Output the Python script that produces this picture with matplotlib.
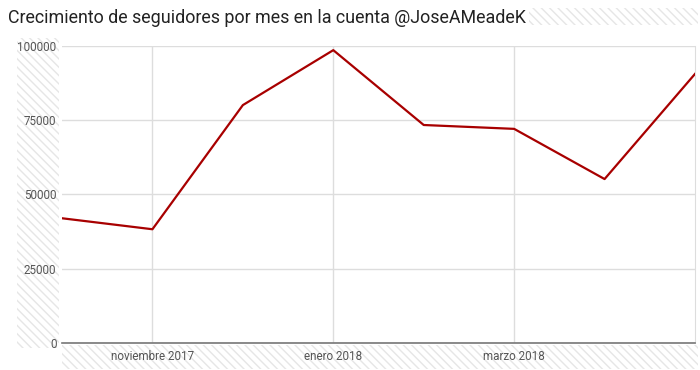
import matplotlib.pyplot as plt
from matplotlib.patches import Rectangle

# datos: seguidores nuevos por mes (oct 2017 - may 2018)
meses = ['octubre 2017', 'noviembre 2017', 'diciembre 2017', 'enero 2018',
         'febrero 2018', 'marzo 2018', 'abril 2018', 'mayo 2018']
seguidores = [42000, 38300, 80100, 98600, 73400, 72100, 55200, 90600]
yticks = [0, 25000, 50000, 75000, 100000]
xtick_idx = [1, 3, 5]

plt.rcParams['font.family'] = ['Roboto', 'DejaVu Sans']

fig = plt.figure(figsize=(7, 3.7), dpi=100)
fig.patch.set_facecolor('white')

# fondo rayado (como en la captura)
for (x0, y0, w, h) in [(17 / 700, 22 / 370, 42 / 700, 310 / 370),
                       (62 / 700, 1 / 370, 636 / 700, 24 / 370),
                       (62 / 700, 345 / 370, 636 / 700, 17 / 370)]:
    r = Rectangle((x0, y0), w, h, transform=fig.transFigure,
                  facecolor='white', edgecolor='#e6e6e6',
                  hatch='\\\\\\\\', linewidth=0, zorder=-5)
    fig.patches.append(r)

ax = fig.add_axes([62 / 700, 27 / 370, 633 / 700, 297 / 370])
ax.set_zorder(1)
ax.patch.set_alpha(0)
x = list(range(len(meses)))
ax.plot(x, seguidores, color='#a80000', linewidth=1.6, zorder=3)

ax.set_xlim(0, len(meses) - 1)
ax.set_ylim(0, 100000)
ax.set_yticks(yticks)
ax.set_yticklabels([str(v) for v in yticks])
ax.set_xticks(xtick_idx)
ax.set_xticklabels([meses[i] for i in xtick_idx])
ax.grid(True, color='#dddddd', linewidth=1)
ax.set_axisbelow(True)
ax.tick_params(length=0, labelsize=8.4, labelcolor='#555555', pad=4)
ax.tick_params(axis='x', pad=5)
for s in ['top', 'left']:
    ax.spines[s].set_visible(False)
ax.spines['right'].set_color('#dddddd')
ax.spines['bottom'].set_color('#777777')
ax.spines['bottom'].set_linewidth(1.2)

# zona blanca del area de trazado
fig.patches.append(Rectangle((62 / 700, 27 / 370), 633 / 700, 297 / 370,
                             transform=fig.transFigure, facecolor='white',
                             edgecolor='none', zorder=-4))

fig.text(8 / 700, 1 - 18 / 370, 'Crecimiento de seguidores por mes en la cuenta @JoseAMeadeK',
         fontsize=12.9, color='#222222', va='center', ha='left',
         bbox=dict(facecolor='white', edgecolor='none', pad=2))

fig.savefig('out.png', dpi=100)
